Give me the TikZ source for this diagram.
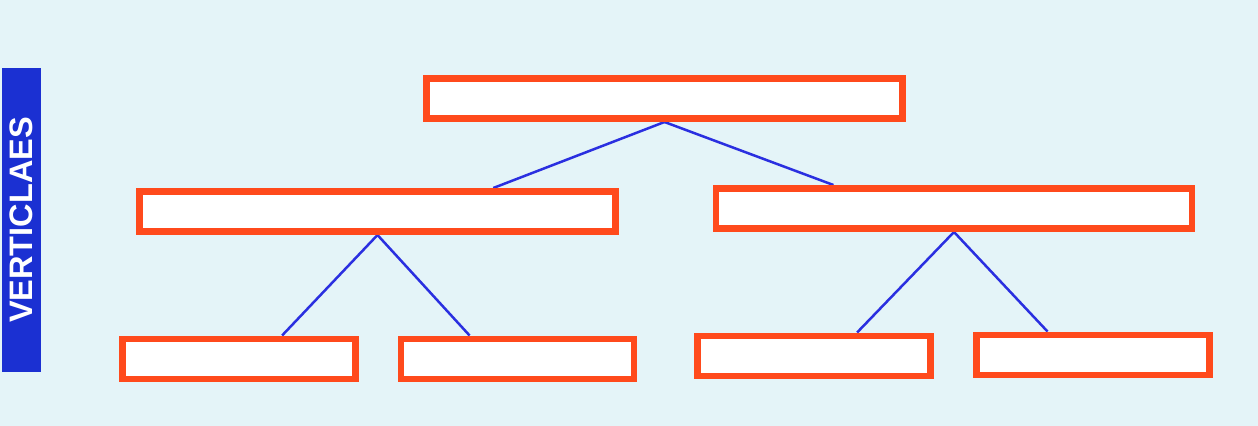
\documentclass[tikz,border=0pt]{standalone}
\usepackage{fontspec}
\setmainfont{Liberation Sans}
\usepackage{tikz}
\usetikzlibrary{calc,backgrounds}
\definecolor{pagebg}{HTML}{E4F4F8}
\definecolor{boxred}{HTML}{FF4A1C}
\definecolor{linkblue}{HTML}{2A2FE0}
\definecolor{tabblue}{HTML}{1B30D2}
\tikzset{
  box/.style   ={rectangle,draw=boxred,fill=white,line width=1.3mm,inner sep=0pt,minimum height=8.1mm},
  wide/.style  ={box,minimum width=9.52cm},
  narrow/.style={box,minimum width=4.66cm},
  link/.style  ={draw=linkblue,line width=0.5mm},
  tab/.style   ={rectangle,fill=tabblue,text=white,font=\bfseries\fontsize{18.5}{18.5}\selectfont,
                 rotate=90,minimum width=6.1cm,minimum height=0.78cm,inner sep=0pt},
}

\begin{document}
\begin{tikzpicture}[x=0.02cm,y=-0.02cm]
  \begin{scope}[on background layer]
    \fill[pagebg] (0,0) rectangle (1258,426);
  \end{scope}
  \useasboundingbox (0,0) rectangle (1258,426);
  \node[tab] (side) at (21.5,220) {VERTICLAES};
  % tree of empty boxes
  \node[wide] (top) at (664.5,98.5) {};
  \node[wide] (midl) at (377.5,211.5) {};
  \node[wide] (midr) at (954,208.5) {};
  \foreach \name/\x/\y in {botA/239/359,botB/517.5/359,botC/814/356,botD/1093/355}{
     \node[narrow] (\name) at (\x,\y) {};
  }
  \begin{scope}[on background layer]
  \foreach \from/\to/\f in {top/midl/0.74,top/midr/0.25,midl/botA/0.68,midl/botB/0.30,midr/botC/0.68,midr/botD/0.31}{
     \draw[link] (\from.south) -- ($(\to.north west)!\f!(\to.north east)$);
  }
  \end{scope}
\end{tikzpicture}
\end{document}
